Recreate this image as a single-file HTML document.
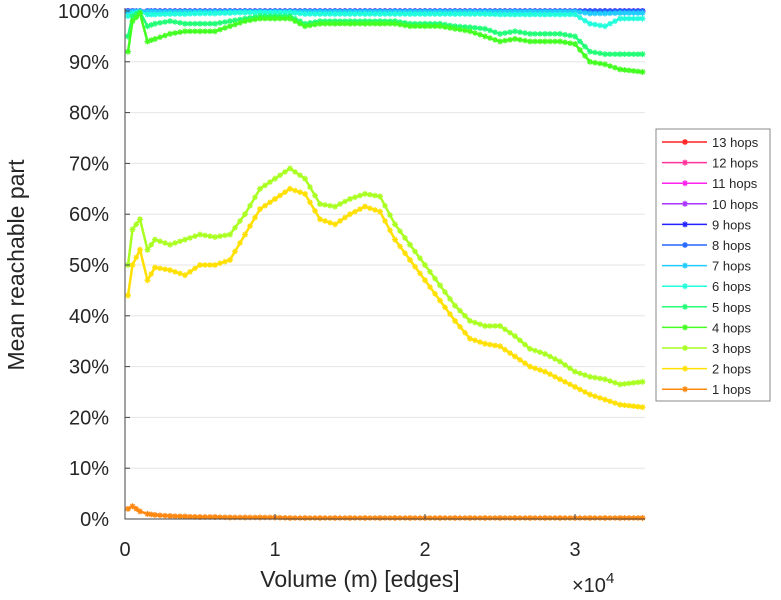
<!DOCTYPE html>
<html><head><meta charset="utf-8"><style>
body{margin:0;background:#fff;}
svg{display:block;font-family:"Liberation Sans",sans-serif;}
</style></head><body>
<svg id="chart" width="781" height="600" viewBox="0 0 781 600" xmlns="http://www.w3.org/2000/svg">
<g id="grid"></g><g id="series"></g><g id="axes"></g><g id="legend"></g>
</svg>
<script>
const xs=[0.02,0.05,0.1,0.15,0.2,0.3,0.4,0.5,0.6,0.7,0.8,0.9,1.0,1.1,1.2,1.3,1.4,1.5,1.6,1.7,1.8,1.9,2.0,2.1,2.2,2.3,2.4,2.5,2.6,2.7,2.8,2.9,3.0,3.1,3.2,3.3,3.45];
const hops1=[2,2.5,1.5,1,0.8,0.6,0.5,0.4,0.4,0.3,0.3,0.3,0.3,0.2,0.2,0.2,0.2,0.2,0.2,0.2,0.2,0.2,0.2,0.2,0.2,0.2,0.2,0.2,0.2,0.2,0.2,0.2,0.2,0.2,0.2,0.2,0.2];
const hops2=[44,50,53,47,49.5,49,48,50,50,51,56,61,63,65,64,59,58,60,61.5,60.5,55,51,47,43,39,35.5,34.5,34,32,30,29,27.5,26,24.5,23.5,22.5,22];
const hops3=[50,57,59,53,55,54,55,56,55.5,56,60,65,67,69,67,62,61.5,63,64,63.5,58,54,50,46,42,39,38,38,36,33.5,32.5,31,29,28,27.5,26.5,27];
const hops4=[92,98,99.5,94,94.5,95.5,96,96,96,97,98,98.5,98.5,98.5,97,97.5,97.5,97.5,97.5,97.5,97.5,97,97,97,96.5,96,95,94,94.5,94,94,94,93.5,90,89.5,88.5,88];
const hops5=[95,99,99.8,97,97.5,98,97.5,97.5,97.5,98,98.5,99,99,99,97.5,98,98,98,98,98,98,97.5,97.5,97.5,97,96.8,96.5,95.5,96,95.5,95.5,95.5,95,92,91.5,91.5,91.5];
const hops6=[99,99.5,99.8,99.3,99.3,99.4,99.4,99.5,99.5,99.6,99.7,99.7,99.7,99.7,99.4,99.4,99.4,99.4,99.4,99.4,99.4,99.4,99.4,99.4,99.4,99.4,99.4,99.3,99.3,99.3,99.3,99.3,99.3,97.5,97,98.5,98.5];
const hops7=[99.8,99.9,100,99.9,99.9,99.9,99.9,99.9,99.9,99.9,99.9,99.9,99.9,99.9,99.9,99.9,99.9,99.9,99.9,99.9,99.9,99.9,99.9,99.9,99.9,99.9,99.9,99.9,99.9,99.9,99.9,99.9,99.9,99.5,99.5,99.6,99.6];
const hopsHigh=[100,100,100,100,100,100,100,100,100,100,100,100,100,100,100,100,100,100,100,100,100,100,100,100,100,100,100,100,100,100,100,100,100,100,100,100,100];
const yTicks=[0,10,20,30,40,50,60,70,80,90,100];
const xTicks=[0,1,2,3];
const legendLabels=["13 hops","12 hops","11 hops","10 hops","9 hops","8 hops","7 hops","6 hops","5 hops","4 hops","3 hops","2 hops","1 hops"];
const legendColors=["#ff2020","#ff3399","#ff22ee","#aa33ff","#2222ff","#2266ff","#22ccff","#22ffdd","#22ff77","#44ff22","#aaff22","#ffe000","#ff8811"];

const X=v=>125+v*150, Y=v=>519-v*5.08;
const NS="http://www.w3.org/2000/svg";
function mk(tag,attrs,parent){const e=document.createElementNS(NS,tag);for(const k in attrs)e.setAttribute(k,attrs[k]);parent.appendChild(e);return e;}
const grid=document.getElementById('grid'),axes=document.getElementById('axes'),ser=document.getElementById('series'),leg=document.getElementById('legend');
yTicks.forEach(t=>{
 const l=mk('line',{x1:125,x2:645,y1:Y(t),y2:Y(t),stroke:'#e6e6e6','stroke-width':1},grid);
 
 
 const tk=mk('line',{x1:125,x2:130,y1:Y(t),y2:Y(t),stroke:'#444'},axes);
 
 
 const tx=mk('text',{x:109,y:Y(t)+7,'text-anchor':'end','font-size':20,fill:'#262626'},axes);
 tx.textContent=t+'%';
 
 
});
xTicks.forEach(t=>{
 const tk=mk('line',{x1:X(t),x2:X(t),y1:519,y2:514,stroke:'#444'},axes);
 
 
 const tx=mk('text',{x:X(t),y:556,'text-anchor':'middle','font-size':20,fill:'#262626'},axes);
 tx.textContent=t;
 
 
});
const ax=mk('path',{d:'M125,8 V519 H645',fill:'none',stroke:'#444','stroke-width':1},axes);


const xl=mk('text',{x:360,y:587,'text-anchor':'middle','font-size':23,fill:'#262626'},axes);
xl.textContent='Volume (m) [edges]';


const xm=mk('text',{x:572,y:592,'font-size':20,fill:'#262626'},axes);
xm.innerHTML='×10<tspan dy="-9" font-size="15">4</tspan>';


const yl=mk('text',{x:0,y:0,'text-anchor':'middle','font-size':23,fill:'#262626',transform:'translate(24,265) rotate(-90)'},axes);
yl.textContent='Mean reachable part';



function star(g,cx,cy,c,r){
 mk('path',{d:`M${cx-r},${cy}H${cx+r}M${cx},${cy-r}V${cy+r}M${cx-r*.7},${cy-r*.7}L${cx+r*.7},${cy+r*.7}M${cx-r*.7},${cy+r*.7}L${cx+r*.7},${cy-r*.7}`,stroke:c,'stroke-width':1.3,fill:'none'},g);
}
const seriesList=[hopsHigh,hopsHigh,hopsHigh,hopsHigh,hopsHigh,hopsHigh,hops7,hops6,hops5,hops4,hops3,hops2,hops1];
const names=['13','12','11','10','9','8','7','6','5','4','3','2','1'];
seriesList.forEach((vals,i)=>{
 const c=legendColors[i];
 const g=mk('g',{},ser);
 
 
 mk('polyline',{points:xs.map((x,j)=>X(x)+','+Y(vals[j])).join(' '),fill:'none',stroke:c,'stroke-width':2.5},g);
 xs.forEach((x,j)=>{
  star(g,X(x),Y(vals[j]),c,3);
  if(j<xs.length-1){const n=Math.round((xs[j+1]-x)*150/5);for(let k=1;k<n;k++){const f=k/n;star(g,X(x)+f*(X(xs[j+1])-X(x)),Y(vals[j])+f*(Y(vals[j+1])-Y(vals[j])),c,2.8);}}
 });
});
const box=mk('rect',{x:656,y:129,width:114,height:272,fill:'#fff',stroke:'#888','stroke-width':1},leg);


legendLabels.forEach((lb,i)=>{
 const y=142+i*20.6;
 const g=mk('g',{},leg);
 
 
 mk('line',{x1:662,x2:707,y1:y,y2:y,stroke:legendColors[i],'stroke-width':1.5},g);
 star(g,685,y,legendColors[i],3);
 const t=mk('text',{x:712,y:y+5,'font-size':13,fill:'#262626'},g);
 t.textContent=lb;
});
</script>
</body></html>
